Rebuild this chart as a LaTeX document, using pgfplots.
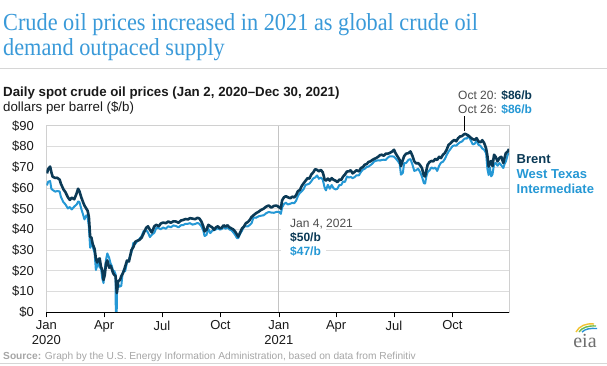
\documentclass[border=0pt]{standalone}
\usepackage{fontspec}
\setmainfont{Liberation Sans}
\newfontfamily\titlefont{Liberation Serif}
\newfontfamily\titlefontc[FakeStretch=0.91]{Liberation Serif}
\usepackage{pgfplots}
\pgfplotsset{compat=1.18}
\definecolor{brent}{HTML}{0B3A56}
\definecolor{wti}{HTML}{2598D5}
\definecolor{titleblue}{HTML}{3A9AD9}
\definecolor{txt}{HTML}{1A1A1A}
\definecolor{annogray}{HTML}{4D4D4D}
\definecolor{srcgray}{HTML}{A6A6A6}
\definecolor{gridgray}{HTML}{DCDCDC}
\definecolor{framegray}{HTML}{D0D0D0}
\definecolor{jangray}{HTML}{C4C4C4}
\definecolor{rulegray}{HTML}{D6D6D6}
\definecolor{eiagray}{HTML}{6E6E6E}
\definecolor{eiayellow}{HTML}{F2C230}
\definecolor{eiagreen}{HTML}{6CB94A}
\definecolor{eiablue}{HTML}{2A93D5}
\begin{document}
\begin{tikzpicture}
\fill[white] (0,0) rectangle (607pt,-365pt);
\path[use as bounding box] (0,0) rectangle (607pt,-365pt);
% title
\node[anchor=base west, inner sep=0, font=\titlefontc\fontsize{24.5}{24.5}\selectfont, text=titleblue] at (3pt,-30.5pt) {Crude oil prices increased in 2021 as global crude oil};
\node[anchor=base west, inner sep=0, font=\titlefontc\fontsize{24.5}{24.5}\selectfont, text=titleblue] at (3pt,-55pt) {demand outpaced supply};
\draw[rulegray, line width=1pt] (0,-68pt) -- (607pt,-68pt);
\node[anchor=base west, inner sep=0, font=\bfseries\fontsize{13.3}{13.3}\selectfont, text=txt] at (3pt,-96pt) {Daily spot crude oil prices (Jan 2, 2020--Dec 30, 2021)};
\node[anchor=base west, inner sep=0, font=\fontsize{13.3}{13.3}\selectfont, text=txt] at (3pt,-111pt) {dollars per barrel (\$/b)};

\begin{axis}[
  at={(46.3pt,-312.3pt)}, anchor=south west,
  scale only axis, width=462.7pt, height=186.6pt,
  xmin=0, xmax=728, ymin=0, ymax=90,
  axis line style={draw=framegray, line width=0.8pt},
  xtick={0,91,182,274,366,456,547,639},
  xticklabels={{Jan\\2020},Apr,Jul,Oct,{Jan\\2021},Apr,Jul,Oct},
  xticklabel style={align=center, font=\fontsize{13}{14.5}\selectfont, text=txt},
  xtick pos=bottom, tick align=outside, major tick length=5pt,
  x tick style={black, line width=0.8pt},
  ytick={0,10,...,90},
  yticklabel={\$\pgfmathprintnumber{\tick}},
  ytick pos=left, y tick style={draw=none},
  yticklabel style={font=\fontsize{13}{13}\selectfont, text=txt, xshift=-4pt},
  /pgf/number format/assume math mode=true,
  ymajorgrids, grid style={gridgray, line width=0.8pt},
  clip mode=individual,
]
\draw[jangray, line width=1.1pt] (axis cs:366,0) -- (axis cs:366,90);
\addplot[wti, line width=2pt, line join=round, no markers] table[row sep=\\] {
x y\\
1 61.2\\ 3 63.0\\ 6 63.3\\ 8 59.6\\ 10 59.0\\ 14 58.2\\ 17 58.5\\ 21 58.3\\ 23 55.6\\ 27 53.1\\
30 52.1\\ 34 50.1\\ 37 50.8\\ 40 49.6\\ 44 51.0\\ 48 52.1\\ 50 53.4\\ 52 53.3\\ 55 50.0\\ 58 47.0\\
60 44.8\\ 63 46.8\\ 65 45.9\\ 67 41.3\\ 69 31.1\\ 71 34.4\\ 73 31.7\\ 76 28.7\\ 78 20.4\\ 80 22.4\\
82 24.5\\ 84 21.5\\ 86 21.5\\ 88 16.5\\ 90 14.1\\ 92 20.3\\ 94 25.3\\ 96 28.4\\ 99 26.2\\ 101 23.6\\
103 22.4\\ 105 20.0\\ 107 19.9\\ 109 18.3\\ 110 -36.98\\ 111 8.9\\ 113 13.8\\ 115 12.3\\ 118 12.8\\ 120 18.8\\
122 20.4\\ 124 19.8\\ 127 24.1\\ 130 25.3\\ 134 29.0\\ 137 33.5\\ 140 33.0\\ 143 34.3\\ 146 35.2\\ 150 36.8\\
153 39.1\\ 157 39.7\\ 160 38.5\\ 163 36.3\\ 166 37.4\\ 170 38.4\\ 173 40.7\\ 177 40.6\\ 180 40.1\\ 184 40.9\\
188 40.3\\ 192 41.5\\ 196 41.0\\ 200 41.9\\ 204 41.6\\ 208 41.0\\ 212 42.0\\ 215 42.0\\ 219 42.7\\ 223 42.7\\
226 43.0\\ 230 42.3\\ 234 42.6\\ 238 43.1\\ 241 42.6\\ 244 41.5\\ 247 39.5\\ 249 36.8\\ 252 37.3\\ 255 40.2\\
258 38.2\\ 261 39.3\\ 264 39.7\\ 267 40.0\\ 270 40.6\\ 273 39.9\\ 276 40.2\\ 279 41.1\\ 282 40.3\\ 285 41.0\\
288 40.0\\ 291 39.6\\ 294 38.6\\ 297 37.4\\ 300 35.8\\ 302 35.8\\ 305 37.9\\ 308 39.4\\ 311 41.4\\ 314 41.5\\
317 41.4\\ 320 42.1\\ 323 43.0\\ 326 45.7\\ 330 45.6\\ 334 46.3\\ 338 46.6\\ 342 46.8\\ 346 47.8\\ 350 48.4\\
354 48.1\\ 358 48.0\\ 362 48.4\\ 366 48.5\\ 369 47.5\\ 371 50.6\\ 374 52.2\\ 377 52.9\\ 380 52.0\\ 384 52.4\\
387 52.8\\ 390 52.6\\ 393 53.8\\ 396 56.2\\ 399 57.6\\ 402 58.4\\ 405 59.5\\ 408 61.5\\ 411 61.7\\ 414 62.1\\
417 63.2\\ 420 64.6\\ 423 65.0\\ 426 66.0\\ 429 64.4\\ 432 65.0\\ 435 64.0\\ 438 60.0\\ 440 58.8\\ 443 61.5\\
446 59.6\\ 449 61.4\\ 452 59.8\\ 455 59.3\\ 458 59.6\\ 461 61.4\\ 464 61.4\\ 467 63.1\\ 470 62.9\\ 473 65.5\\
476 65.0\\ 479 65.3\\ 482 64.7\\ 485 65.2\\ 488 66.1\\ 492 66.1\\ 495 67.7\\ 498 68.8\\ 501 69.2\\ 504 70.1\\
507 70.3\\ 510 71.0\\ 513 71.7\\ 516 72.8\\ 519 73.1\\ 522 73.3\\ 525 73.2\\ 528 73.5\\ 531 73.6\\ 534 73.5\\
537 74.5\\ 540 75.2\\ 544 75.2\\ 547 75.1\\ 550 74.1\\ 553 73.0\\ 556 71.6\\ 558 66.4\\ 561 67.3\\ 563 71.9\\
566 72.0\\ 570 73.6\\ 573 73.9\\ 576 71.3\\ 579 68.2\\ 582 68.5\\ 585 69.3\\ 588 67.7\\ 591 65.5\\ 594 62.3\\
596 62.1\\ 598 65.6\\ 600 67.6\\ 603 68.5\\ 606 69.9\\ 609 69.3\\ 612 69.8\\ 615 68.2\\ 618 70.6\\ 621 72.2\\
624 72.6\\ 627 73.9\\ 630 75.9\\ 633 77.6\\ 636 78.8\\ 639 80.1\\ 642 80.5\\ 645 80.4\\ 648 81.3\\ 651 82.0\\
654 82.4\\ 657 83.4\\ 659 83.9\\ 662 83.8\\ 664 85.6\\ 665 84.8\\ 668 82.8\\ 671 81.0\\ 674 81.3\\ 677 82.7\\
680 80.8\\ 683 80.3\\ 686 79.0\\ 689 78.4\\ 692 76.7\\ 694 69.3\\ 696 66.2\\ 698 69.9\\ 700 65.6\\ 702 66.5\\
704.5 71.4\\ 707 72.1\\ 710 70.7\\ 713 72.0\\ 716 70.9\\ 719 69.6\\ 721 71.5\\ 723 72.7\\ 726 76.0\\ 728 76.8\\
};
\addplot[brent, line width=2.6pt, line join=round, no markers] table[row sep=\\] {
x y\\
1 67.0\\ 3 69.1\\ 6 70.3\\ 8 67.5\\ 10 65.4\\ 14 64.8\\ 17 64.9\\ 21 64.0\\ 23 62.0\\ 27 59.3\\
30 58.0\\ 34 55.5\\ 37 54.2\\ 40 55.3\\ 44 54.5\\ 48 57.6\\ 50 59.6\\ 52 58.5\\ 55 55.5\\ 58 53.0\\
60 51.5\\ 63 50.0\\ 65 49.0\\ 67 46.0\\ 69 36.5\\ 71 36.0\\ 73 33.0\\ 76 30.5\\ 78 26.0\\ 80 24.0\\
82 25.5\\ 84 26.0\\ 86 22.0\\ 88 20.5\\ 90 15.6\\ 92 18.0\\ 94 23.6\\ 96 25.0\\ 99 21.5\\ 101 22.5\\
103 21.0\\ 105 19.0\\ 107 18.0\\ 109 17.5\\ 111 9.3\\ 113 15.0\\ 116 15.6\\ 118 17.5\\ 120 18.5\\ 122 20.0\\
124 22.0\\ 127 25.0\\ 130 24.5\\ 134 30.0\\ 137 31.5\\ 140 34.0\\ 143 34.5\\ 146 34.8\\ 150 36.0\\ 153 38.0\\
157 40.7\\ 160 41.5\\ 163 39.8\\ 166 38.5\\ 170 41.5\\ 173 42.2\\ 177 41.5\\ 180 42.8\\ 184 43.3\\ 188 43.0\\
192 43.8\\ 196 43.2\\ 200 43.9\\ 204 43.8\\ 208 43.2\\ 212 44.3\\ 215 44.5\\ 219 45.0\\ 223 44.8\\ 226 45.4\\
230 45.2\\ 234 44.9\\ 238 45.6\\ 241 45.2\\ 244 43.8\\ 247 41.5\\ 249 39.0\\ 252 39.8\\ 255 42.2\\ 258 41.5\\
261 41.0\\ 264 39.8\\ 267 41.0\\ 270 41.5\\ 273 40.5\\ 276 40.8\\ 279 42.0\\ 282 41.3\\ 285 42.0\\ 288 41.0\\
291 40.5\\ 294 40.0\\ 297 39.0\\ 300 37.5\\ 302 36.5\\ 305 38.5\\ 308 40.5\\ 311 41.4\\ 314 43.0\\ 317 43.5\\
320 44.5\\ 323 46.0\\ 326 46.8\\ 330 47.8\\ 334 48.5\\ 338 49.4\\ 342 50.0\\ 346 51.0\\ 350 51.5\\ 354 50.5\\
358 51.3\\ 362 51.5\\ 366 50.8\\ 369 50.0\\ 371 54.0\\ 374 55.5\\ 377 56.0\\ 380 55.5\\ 384 55.0\\ 387 55.8\\
390 55.4\\ 393 56.5\\ 396 58.5\\ 399 59.0\\ 402 61.0\\ 405 62.3\\ 408 63.5\\ 411 64.7\\ 414 64.5\\ 417 66.5\\
420 67.5\\ 423 69.0\\ 426 68.7\\ 429 68.0\\ 432 68.7\\ 435 67.5\\ 438 64.0\\ 440 63.5\\ 443 64.5\\ 446 63.5\\
449 64.7\\ 452 63.9\\ 455 63.5\\ 458 62.8\\ 461 64.0\\ 464 63.9\\ 467 65.5\\ 470 66.5\\ 473 67.9\\ 476 68.0\\
479 68.5\\ 482 67.0\\ 485 67.7\\ 488 68.5\\ 492 68.0\\ 495 69.6\\ 498 70.0\\ 501 71.2\\ 504 71.5\\ 507 72.5\\
510 72.8\\ 513 73.5\\ 516 74.0\\ 519 74.4\\ 522 75.0\\ 525 75.8\\ 528 76.0\\ 531 75.5\\ 534 76.5\\ 537 76.5\\
540 76.8\\ 544 77.5\\ 547 78.4\\ 550 76.5\\ 553 75.0\\ 556 73.5\\ 558 70.5\\ 561 73.5\\ 563 75.3\\ 566 76.5\\
570 76.8\\ 573 77.6\\ 576 75.5\\ 579 72.8\\ 582 71.8\\ 585 72.0\\ 588 71.0\\ 591 69.6\\ 594 66.0\\ 596 65.5\\
598 68.5\\ 600 71.2\\ 603 72.5\\ 606 73.0\\ 609 72.8\\ 612 74.0\\ 615 73.5\\ 618 75.0\\ 621 74.4\\ 624 76.0\\
627 76.8\\ 630 78.5\\ 633 80.8\\ 636 81.5\\ 639 82.5\\ 642 83.2\\ 645 82.5\\ 648 84.0\\ 651 84.8\\ 654 85.0\\
657 85.8\\ 659 86.1\\ 662 85.6\\ 665 85.0\\ 668 84.2\\ 671 83.5\\ 674 83.2\\ 677 84.0\\ 680 82.4\\ 683 82.0\\
686 83.0\\ 689 81.6\\ 692 79.0\\ 694 75.5\\ 696 70.3\\ 698 72.0\\ 700 73.0\\ 702 70.5\\ 704.5 76.0\\ 707 75.0\\
710 72.8\\ 713 74.5\\ 716 75.0\\ 719 72.0\\ 721 74.5\\ 723 76.8\\ 726 77.5\\ 728 78.8\\
};
\draw[black, line width=0.9pt] (rel axis cs:0,0) -- (rel axis cs:1,0);
\end{axis}

% Jan 4 annotation
\fill[white] (280.5pt,-228pt) rectangle (326pt,-257pt);
\node[anchor=base west, inner sep=0, font=\fontsize{12}{12}\selectfont, text=annogray] at (290pt,-227.5pt) {Jan 4, 2021};
\node[anchor=base west, inner sep=0, font=\bfseries\fontsize{12}{12}\selectfont, text=brent] at (290pt,-241pt) {\$50/b};
\node[anchor=base west, inner sep=0, font=\bfseries\fontsize{12}{12}\selectfont, text=wti] at (290pt,-255pt) {\$47/b};
% Oct annotation
\node[anchor=base west, inner sep=0, font=\fontsize{12}{12}\selectfont, text=annogray] at (458pt,-99pt) {Oct 20: \textbf{\color{brent}\$86/b}};
\node[anchor=base west, inner sep=0, font=\fontsize{12}{12}\selectfont, text=annogray] at (458pt,-113pt) {Oct 26: \textbf{\color{wti}\$86/b}};
\draw[black, line width=0.8pt] (464pt,-116pt) -- (464pt,-131pt);
% series labels
\node[anchor=base west, inner sep=0, font=\bfseries\fontsize{13}{13}\selectfont, text=brent] at (516.5pt,-163.3pt) {Brent};
\node[anchor=base west, inner sep=0, font=\bfseries\fontsize{13}{13}\selectfont, text=wti] at (516.5pt,-178pt) {West Texas};
\node[anchor=base west, inner sep=0, font=\bfseries\fontsize{13}{13}\selectfont, text=wti] at (516.5pt,-193pt) {Intermediate};
% source
\node[anchor=base west, inner sep=0, font=\fontsize{10.2}{10.2}\selectfont, text=srcgray] at (3pt,-359pt) {\textbf{Source:} Graph by the U.S. Energy Information Administration, based on data from Refinitiv};
\draw[rulegray, line width=1pt] (0,-363.5pt) -- (607pt,-363.5pt);
% eia logo
\draw[eiayellow, line width=1.4pt] (576pt,-332pt) .. controls (579pt,-326pt) and (586pt,-323pt) .. (594pt,-324pt);
\draw[eiagreen, line width=1.4pt] (579pt,-332pt) .. controls (582pt,-327.5pt) and (588pt,-325.5pt) .. (596pt,-326pt);
\draw[eiablue, line width=1.4pt] (582pt,-332pt) .. controls (585pt,-329pt) and (590pt,-328pt) .. (597pt,-328.5pt);
\node[anchor=base, inner sep=0, font=\titlefont\fontsize{20}{20}\selectfont, text=eiagray] at (585pt,-347pt) {eia};
\end{tikzpicture}
\end{document}
